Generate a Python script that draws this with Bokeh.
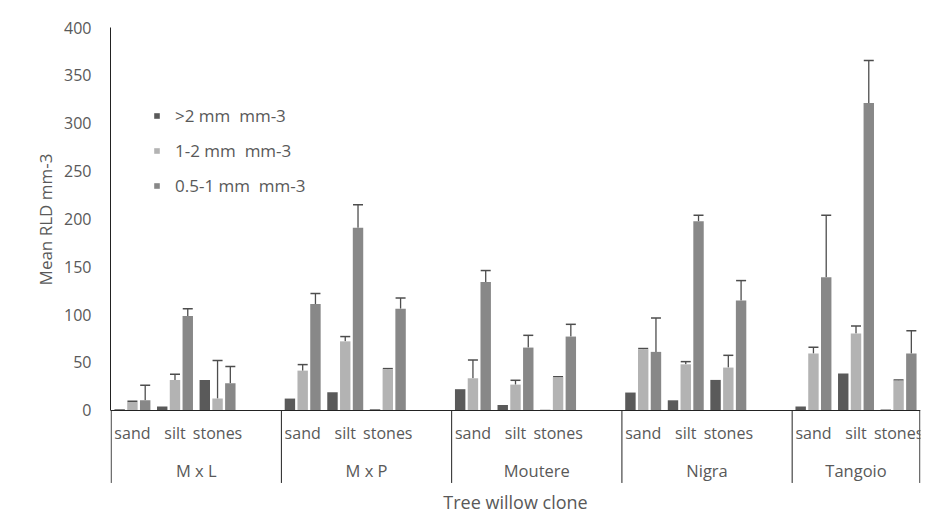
from bokeh.plotting import figure
from bokeh.models import (FactorRange, ColumnDataSource, Whisker, Legend, LegendItem,
                          TeeHead, Range1d, FixedTicker, Title)
from bokeh.transform import dodge
from bokeh.embed import file_html
from bokeh.resources import INLINE

# ---------------- data ----------------
clones = ["M x L", "M x P", "Moutere", "Nigra", "Tangoio"]
soils = ["sand", "silt", "stones"]
series_names = [">2 mm  mm-3", "1-2 mm  mm-3", "0.5-1 mm  mm-3"]

# order: clone by clone, soil sand/silt/stones
gt2_mean = [1.0, 4.0, 31.7, 12.2, 18.8, 1.0, 22.0, 5.5, 0.5, 18.5, 10.4, 31.7, 3.9, 38.3, 0.7]
mid_mean = [8.7, 31.5, 12.2, 41.4, 72.0, 42.8, 33.4, 26.8, 34.5, 63.7, 48.0, 44.6, 59.2, 80.1, 31.0]
mid_err = [0.8, 6.0, 39.8, 6.3, 5.0, 0.7, 19.1, 4.5, 0.5, 0.8, 2.8, 12.8, 6.6, 7.9, 0.5]
fine_mean = [10.5, 98.5, 28.2, 111.0, 190.8, 106.2, 134.0, 65.5, 77.0, 61.0, 197.4, 114.6, 139.0, 321.0, 59.2]
fine_err = [15.5, 7.5, 17.4, 11.0, 24.0, 11.1, 12.0, 12.8, 12.8, 35.4, 6.3, 20.9, 64.7, 44.5, 24.0]

y_ticks = [0, 50, 100, 150, 200, 250, 300, 350, 400]

colors = ["#5a5a5a", "#b3b3b3", "#888888"]
text_color = "#595959"
axis_color = "#222222"
FONT = "Open Sans"

# ---------------- factors ----------------
x_keys = [(c, s) for c in clones for s in soils]
range_factors = []
for i, c in enumerate(clones):
    for s in soils:
        range_factors.append((c, s))
    if i < len(clones) - 1:
        range_factors.append((c, ""))

x_range = FactorRange(factors=range_factors, factor_padding=0, group_padding=0,
                      subgroup_padding=0, range_padding=0.0016)

src = ColumnDataSource(dict(
    x=x_keys,
    gt2=gt2_mean,
    mid=mid_mean,
    mid_up=[m + e for m, e in zip(mid_mean, mid_err)],
    fine=fine_mean,
    fine_up=[m + e for m, e in zip(fine_mean, fine_err)],
))

# the frame reaches below zero so that the category axis and its separators fit in it
sep_depth = -76
y_floor = -110
p = figure(x_range=x_range, y_range=Range1d(y_floor, 400), width=923, height=521,
           output_backend="svg", toolbar_location=None,
           min_border_left=110, min_border_right=3, min_border_top=27, min_border_bottom=6)

bw = 0.245
off = 0.3
r1 = p.vbar(x=dodge("x", -off, range=p.x_range), top="gt2", bottom=0, width=bw, source=src,
            fill_color=colors[0], line_color=None)
r2 = p.vbar(x=dodge("x", 0.0, range=p.x_range), top="mid", bottom=0, width=bw, source=src,
            fill_color=colors[1], line_color=None)
r3 = p.vbar(x=dodge("x", off, range=p.x_range), top="fine", bottom=0, width=bw, source=src,
            fill_color=colors[2], line_color=None)

err_col = "#4d4d4d"
for dx, lo, up in [(0.0, "mid", "mid_up"), (off, "fine", "fine_up")]:
    w = Whisker(base=dodge("x", dx, range=p.x_range), lower=lo, upper=up, source=src,
                dimension="height", line_color=err_col, line_width=1.3,
                upper_head=TeeHead(size=10, line_color=err_col, line_width=1.5),
                lower_head=None)
    p.add_layout(w)

# group separators of the category axis (left edge, between clones, right edge)
bounds = [0]
for i in range(1, len(range_factors)):
    if range_factors[i][0] != range_factors[i - 1][0]:
        bounds.append(i)
bounds.append(len(range_factors))
p.segment(x0=bounds, y0=[0] * len(bounds), x1=bounds, y1=[sep_depth] * len(bounds),
          line_color=axis_color, line_width=1)

# ---------------- axes ----------------
p.grid.visible = False
p.outline_line_color = None

ya = p.yaxis[0]
ya.ticker = FixedTicker(ticks=y_ticks)
ya.bounds = (0, 400)
ya.major_label_text_font = FONT
ya.major_label_text_font_size = "16px"
ya.major_label_text_color = text_color
ya.major_tick_line_color = None
ya.major_tick_out = 0
ya.major_tick_in = 0
ya.minor_tick_line_color = None
ya.minor_tick_out = 0
ya.major_label_standoff = 19
ya.axis_line_color = axis_color

ytitle = Title(text="Mean RLD mm-3", align="right", offset=126, standoff=10,
               text_font=FONT, text_font_size="17px", text_font_style="normal",
               text_color=text_color)
p.add_layout(ytitle, "left")

xa = p.xaxis[0]
xa.fixed_location = 0
xa.axis_label = "Tree willow clone"
xa.axis_label_text_font = FONT
xa.axis_label_text_font_size = "18px"
xa.axis_label_text_font_style = "normal"
xa.axis_label_text_color = text_color
xa.axis_label_standoff = 4
xa.major_label_text_font = FONT
xa.major_label_text_font_size = "16px"
xa.major_label_text_color = text_color
xa.major_label_standoff = 12
xa.major_tick_line_color = None
xa.major_tick_out = 0
xa.major_tick_in = 0
xa.minor_tick_line_color = None
xa.group_text_font = FONT
xa.group_text_font_size = "16.5px"
xa.group_text_font_style = "normal"
xa.group_text_color = text_color
xa.separator_line_color = None
xa.axis_line_color = axis_color

# ---------------- legend ----------------
legend = Legend(items=[LegendItem(label=series_names[0], renderers=[r1]),
                       LegendItem(label=series_names[1], renderers=[r2]),
                       LegendItem(label=series_names[2], renderers=[r3])],
                location=(43, 318), orientation="vertical",
                glyph_width=7, glyph_height=7, label_height=20, spacing=12,
                label_standoff=15, padding=0, margin=0,
                border_line_color=None, background_fill_alpha=0,
                label_text_font=FONT, label_text_font_size="17px",
                label_text_color=text_color)
p.add_layout(legend, "center")

open("out.html", "w").write(file_html(p, INLINE))
